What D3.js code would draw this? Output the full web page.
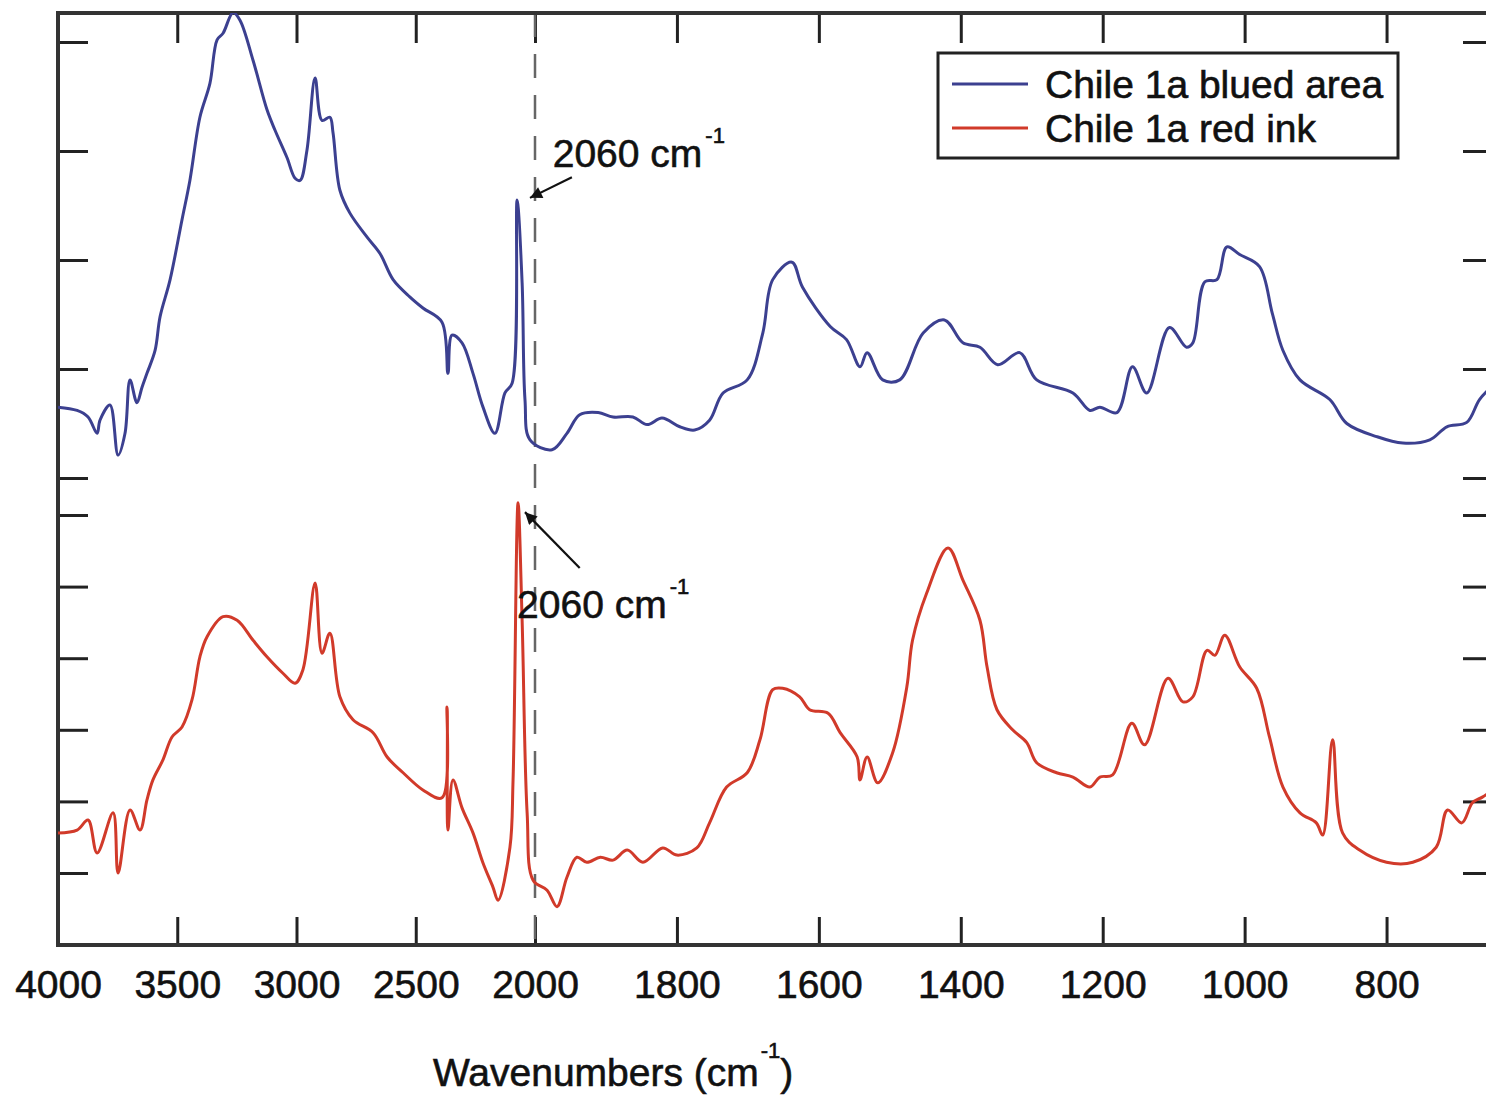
<!DOCTYPE html>
<html>
<head>
<meta charset="utf-8">
<script src="https://cdn.jsdelivr.net/npm/d3@7"></script>
<style>
  body { margin: 0; background: #fff; }
  svg { display: block; font-family: "Liberation Sans", Arial, sans-serif; }
  svg text { fill: #111; stroke: #111; stroke-width: 0.6px; }
</style>
</head>
<body>
<script>
'use strict';

// wavenumber ticks (the axis changes scale at 2000)
const xTicks = [4000, 3500, 3000, 2500, 2000, 1800, 1600, 1400, 1200, 1000, 800];
// unlabeled absorbance ticks, one set for each trace
const blueTicks = [0.1, 0.2, 0.3, 0.4, 0.5];
const redTicks = [0.1, 0.2, 0.3, 0.4, 0.5, 0.6];

const seriesNames = ["Chile 1a blued area", "Chile 1a red ink"];
const peakText = "2060 cm";
const xTitle = "Wavenumbers (cm";

// Chile 1a blued area
const blueWave = [4000, 3920, 3874, 3836, 3824, 3782, 3748, 3719, 3698, 3669,
  3648, 3627, 3593, 3572, 3530, 3480, 3447, 3405, 3363, 3333,
  3308, 3266, 3237, 3182, 3124, 3090, 3040, 3006, 2985, 2956,
  2922, 2893, 2860, 2847, 2818, 2776, 2704, 2650, 2595, 2524,
  2470, 2390, 2365, 2348, 2306, 2260, 2218, 2168, 2126, 2096,
  2075, 2054, 2042, 2021, 1976, 1955, 1937, 1911, 1890, 1862,
  1842, 1821, 1796, 1775, 1754, 1735, 1701, 1679, 1665, 1638,
  1623, 1584, 1561, 1542, 1532, 1510, 1486, 1453, 1423, 1397,
  1373, 1348, 1317, 1293, 1242, 1218, 1204, 1180, 1158, 1138,
  1106, 1082, 1073, 1056, 1039, 1025, 1007, 979, 961, 946,
  922, 880, 856, 814, 777, 739, 715, 687, 669, 650];
const blueAbs = [0.165, 0.162, 0.156, 0.141, 0.153, 0.167, 0.121, 0.141, 0.190, 0.169,
  0.183, 0.196, 0.217, 0.248, 0.282, 0.337, 0.373, 0.431, 0.462, 0.502,
  0.508, 0.527, 0.520, 0.483, 0.438, 0.419, 0.394, 0.375, 0.373, 0.401,
  0.467, 0.428, 0.431, 0.417, 0.364, 0.343, 0.321, 0.306, 0.282, 0.266,
  0.256, 0.243, 0.196, 0.231, 0.224, 0.196, 0.165, 0.141, 0.178, 0.187,
  0.355, 0.279, 0.172, 0.135, 0.126, 0.141, 0.158, 0.160, 0.156, 0.156,
  0.149, 0.155, 0.147, 0.144, 0.153, 0.178, 0.190, 0.233, 0.282, 0.298,
  0.275, 0.239, 0.227, 0.202, 0.215, 0.190, 0.190, 0.233, 0.245, 0.224,
  0.220, 0.204, 0.215, 0.190, 0.178, 0.162, 0.165, 0.160, 0.202, 0.178,
  0.238, 0.220, 0.224, 0.280, 0.282, 0.312, 0.305, 0.294, 0.251, 0.217,
  0.190, 0.172, 0.150, 0.138, 0.132, 0.135, 0.147, 0.151, 0.172, 0.185];

// Chile 1a red ink
const redWave = [4000, 3920, 3874, 3836, 3769, 3748, 3698, 3656, 3627, 3602,
  3560, 3522, 3480, 3438, 3405, 3375, 3308, 3249, 3182, 3124,
  3057, 3006, 2973, 2922, 2893, 2860, 2818, 2763, 2679, 2620,
  2553, 2470, 2390, 2369, 2365, 2344, 2306, 2260, 2218, 2176,
  2155, 2105, 2092, 2071, 2054, 2033, 2008, 1983, 1969, 1955,
  1941, 1927, 1908, 1890, 1870, 1848, 1820, 1800, 1772, 1754,
  1730, 1701, 1683, 1665, 1651, 1627, 1613, 1587, 1570, 1546,
  1542, 1532, 1517, 1496, 1476, 1468, 1448, 1418, 1397, 1373,
  1363, 1349, 1327, 1307, 1293, 1265, 1242, 1218, 1204, 1186,
  1159, 1141, 1108, 1087, 1073, 1053, 1042, 1028, 1007, 983,
  965, 946, 922, 899, 890, 876, 862, 838, 800, 763,
  730, 714, 694, 679, 665, 650];
const redAbs = [0.156, 0.160, 0.174, 0.128, 0.184, 0.100, 0.188, 0.160, 0.202, 0.230,
  0.258, 0.290, 0.304, 0.342, 0.402, 0.430, 0.458, 0.453, 0.425, 0.402,
  0.379, 0.365, 0.384, 0.505, 0.407, 0.435, 0.346, 0.314, 0.296, 0.262,
  0.240, 0.216, 0.205, 0.332, 0.160, 0.230, 0.191, 0.156, 0.114, 0.080,
  0.062, 0.136, 0.230, 0.617, 0.453, 0.184, 0.090, 0.076, 0.053, 0.094,
  0.122, 0.115, 0.122, 0.118, 0.132, 0.115, 0.135, 0.125, 0.135, 0.170,
  0.220, 0.240, 0.286, 0.356, 0.358, 0.346, 0.328, 0.323, 0.296, 0.262,
  0.230, 0.262, 0.226, 0.268, 0.360, 0.425, 0.491, 0.554, 0.509, 0.453,
  0.388, 0.328, 0.300, 0.282, 0.254, 0.240, 0.234, 0.220, 0.234, 0.237,
  0.309, 0.279, 0.372, 0.339, 0.346, 0.411, 0.404, 0.432, 0.388, 0.358,
  0.290, 0.220, 0.184, 0.170, 0.153, 0.286, 0.156, 0.132, 0.115, 0.115,
  0.136, 0.188, 0.170, 0.198, 0.206, 0.216];

(function() {

  let svgContainer = ""; // keep SVG reference in scope
  const blueColor = "#3c4090";
  const redColor = "#d13a2a";

  window.onload = function() {
    svgContainer = d3.select('body')
      .append('svg')
      .attr('width', 1486)
      .attr('height', 1104);

    let map = makeScales();
    drawAxes(map);
    plotData(map);
    drawLegend();
    makeLabels(map);
  }

  // x is split: 4000-2000 compressed, 2000-650 stretched
  function makeScales() {
    let x = d3.scaleLinear()
      .domain([4000, 2000, 650])
      .range([58, 535, 1493]);

    // each trace gets its own vertical scale (stacked spectra)
    let yBlue = d3.scaleLinear().domain([0.1, 0.5]).range([478, 42]);
    let yRed = d3.scaleLinear().domain([0.1, 0.6]).range([873, 515]);

    return { x: x, yBlue: yBlue, yRed: yRed, top: 13, bottom: 945 };
  }

  function styleTicks(g) {
    g.select('.domain').remove();
    g.selectAll('.tick line')
      .attr('stroke', '#222')
      .attr('stroke-width', 3);
  }

  function drawAxes(map) {
    let x = map.x;
    let left = x(4000), right = x(650);

    // bottom axis with labels
    svgContainer.append('g')
      .attr('transform', 'translate(0,' + map.bottom + ')')
      .call(d3.axisBottom(x).tickValues(xTicks).tickSize(-28).tickPadding(25)
        .tickFormat(d3.format('d')))
      .call(styleTicks)
      .selectAll('text')
      .style('font-size', '39px');

    // top axis, ticks only
    svgContainer.append('g')
      .attr('transform', 'translate(0,' + map.top + ')')
      .call(d3.axisTop(x).tickValues(xTicks).tickSize(-30).tickFormat(''))
      .call(styleTicks);

    // y ticks for both traces on both sides
    [[map.yBlue, blueTicks], [map.yRed, redTicks]].forEach((pair) => {
      svgContainer.append('g')
        .attr('transform', 'translate(' + left + ',0)')
        .call(d3.axisLeft(pair[0]).tickValues(pair[1]).tickSize(-30).tickFormat(''))
        .call(styleTicks);
      svgContainer.append('g')
        .attr('transform', 'translate(' + right + ',0)')
        .call(d3.axisRight(pair[0]).tickValues(pair[1]).tickSize(-30).tickFormat(''))
        .call(styleTicks);
    });

    // dashed marker line at 2000
    svgContainer.append('line')
      .attr('x1', x(2000)).attr('x2', x(2000))
      .attr('y1', map.top).attr('y2', map.bottom)
      .attr('stroke', '#666')
      .attr('stroke-width', 2.5)
      .attr('stroke-dasharray', '24,17');

    // plot frame
    svgContainer.append('rect')
      .attr('x', left)
      .attr('y', map.top)
      .attr('width', right - left)
      .attr('height', map.bottom - map.top)
      .attr('fill', 'none')
      .attr('stroke', '#333')
      .attr('stroke-width', 4);

    svgContainer.append('clipPath')
      .attr('id', 'plotClip')
      .append('rect')
      .attr('x', left)
      .attr('y', map.top)
      .attr('width', right - left)
      .attr('height', map.bottom - map.top);
  }

  // draw both spectra
  function plotData(map) {
    let blueData = blueWave.map((w, i) => ({ w: w, a: blueAbs[i] }));
    let redData = redWave.map((w, i) => ({ w: w, a: redAbs[i] }));

    let blueLine = d3.line()
      .curve(d3.curveCatmullRom.alpha(0.5))
      .x((d) => map.x(d.w))
      .y((d) => map.yBlue(d.a));
    let redLine = d3.line()
      .curve(d3.curveCatmullRom.alpha(0.5))
      .x((d) => map.x(d.w))
      .y((d) => map.yRed(d.a));

    let g = svgContainer.append('g').attr('clip-path', 'url(#plotClip)');

    g.append('path')
      .datum(blueData)
      .attr('d', blueLine)
      .attr('fill', 'none')
      .attr('stroke', blueColor)
      .attr('stroke-width', 3)
      .attr('stroke-linejoin', 'round');

    g.append('path')
      .datum(redData)
      .attr('d', redLine)
      .attr('fill', 'none')
      .attr('stroke', redColor)
      .attr('stroke-width', 3)
      .attr('stroke-linejoin', 'round');
  }

  function drawLegend() {
    let lg = svgContainer.append('g').attr('transform', 'translate(938,53)');

    lg.append('rect')
      .attr('width', 460)
      .attr('height', 105)
      .attr('fill', '#fff')
      .attr('stroke', '#222')
      .attr('stroke-width', 3);

    let colors = [blueColor, redColor];
    seriesNames.forEach((name, i) => {
      lg.append('line')
        .attr('x1', 14).attr('x2', 90)
        .attr('y1', 31 + i * 44).attr('y2', 31 + i * 44)
        .attr('stroke', colors[i])
        .attr('stroke-width', 3);
      lg.append('text')
        .attr('x', 107)
        .attr('y', 45 + i * 44)
        .style('font-size', '39px')
        .text(name);
    });
  }

  // peak callouts and axis title
  function makeLabels(map) {
    let x = map.x;

    svgContainer.append('defs').append('marker')
      .attr('id', 'arrowHead')
      .attr('viewBox', '0 0 10 10')
      .attr('refX', 10).attr('refY', 5)
      .attr('markerUnits', 'userSpaceOnUse')
      .attr('markerWidth', 26).attr('markerHeight', 12)
      .attr('orient', 'auto')
      .append('path')
      .attr('d', 'M0,0 L10,5 L0,10 z')
      .attr('fill', '#111');

    // blued area callout
    svgContainer.append('line')
      .attr('x1', x(1948)).attr('y1', map.yBlue(0.376))
      .attr('x2', x(2021)).attr('y2', map.yBlue(0.357))
      .attr('stroke', '#111').attr('stroke-width', 2.2)
      .attr('marker-end', 'url(#arrowHead)');
    addSupText(x(1975), map.yBlue(0.385), peakText);

    // red ink callout
    svgContainer.append('line')
      .attr('x1', x(1937)).attr('y1', map.yRed(0.526))
      .attr('x2', x(2042)).attr('y2', map.yRed(0.604))
      .attr('stroke', '#111').attr('stroke-width', 2.2)
      .attr('marker-end', 'url(#arrowHead)');
    addSupText(x(2075), map.yRed(0.456), peakText);

    // x axis title
    let t = svgContainer.append('text')
      .attr('x', 433)
      .attr('y', 1086)
      .style('font-size', '39px');
    t.append('tspan').text(xTitle);
    t.append('tspan').attr('dx', 2).attr('dy', -28).style('font-size', '22px').text('-1');
    t.append('tspan').attr('dy', 28).text(')');
  }

  function addSupText(px, py, label) {
    let t = svgContainer.append('text')
      .attr('x', px)
      .attr('y', py)
      .style('font-size', '39px');
    t.append('tspan').text(label);
    t.append('tspan').attr('dx', 3).attr('dy', -24).style('font-size', '22px').text('-1');
  }

})();
</script>
</body>
</html>
